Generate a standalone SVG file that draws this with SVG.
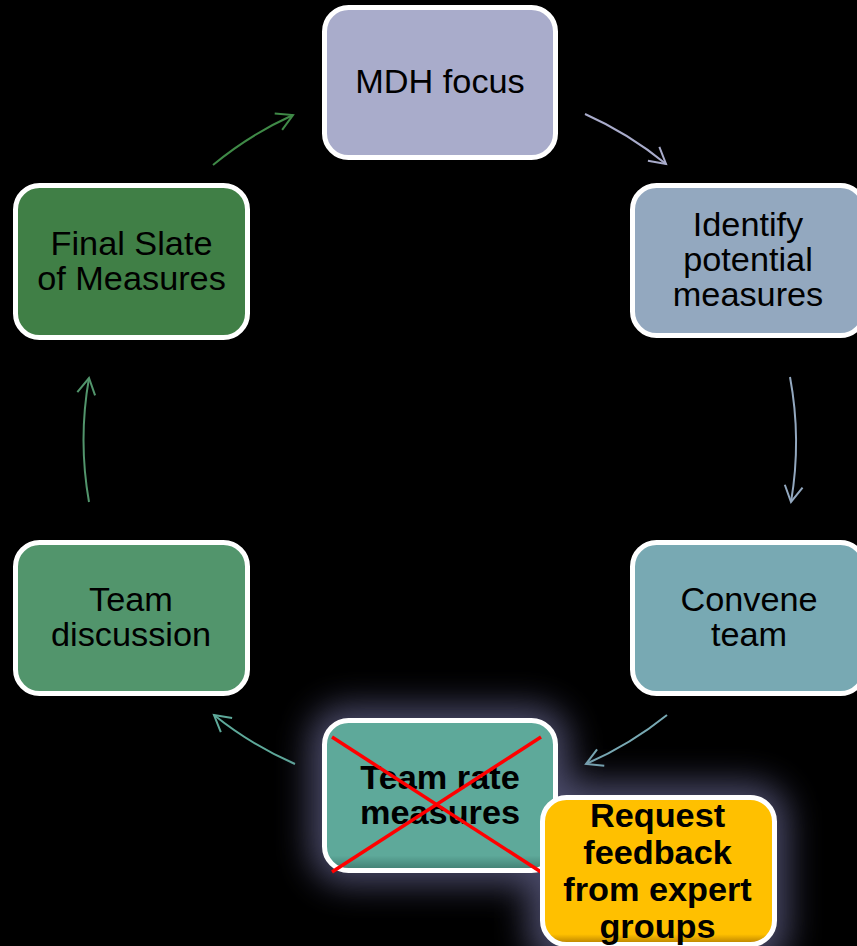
<svg xmlns="http://www.w3.org/2000/svg" width="857" height="946" viewBox="0 0 857 946">
<style>
.box{stroke:#ffffff;stroke-width:5}
.t{font-family:"Liberation Sans",Arial,sans-serif;font-size:32.5px;fill:#000000;text-anchor:middle}
.b{font-weight:bold}
.c{fill:none;stroke-width:2}
</style>
<defs>
<filter id="glow" x="-40%" y="-40%" width="180%" height="180%">
<feGaussianBlur stdDeviation="17"/>
</filter>
<linearGradient id="gRate" x1="0" y1="0" x2="0" y2="1">
<stop offset="0" stop-color="#5ea99a"/>
<stop offset="0.9" stop-color="#5ea99a"/>
<stop offset="1" stop-color="#3f7c70"/>
</linearGradient>
<linearGradient id="gReq" x1="0" y1="0" x2="0" y2="1">
<stop offset="0" stop-color="#ffc000"/>
<stop offset="0.93" stop-color="#ffc000"/>
<stop offset="1" stop-color="#b07a00"/>
</linearGradient>
<marker id="m1" markerUnits="userSpaceOnUse" viewBox="-18 -11 20 22" refX="0" refY="0" markerWidth="20" markerHeight="22" orient="auto" overflow="visible"><path d="M-16,-9 L0,0 L-16,9" fill="none" stroke="#3f8a47" stroke-width="2"/></marker>
<marker id="m2" markerUnits="userSpaceOnUse" viewBox="-18 -11 20 22" refX="0" refY="0" markerWidth="20" markerHeight="22" orient="auto" overflow="visible"><path d="M-16,-9 L0,0 L-16,9" fill="none" stroke="#a9accb" stroke-width="2"/></marker>
<marker id="m3" markerUnits="userSpaceOnUse" viewBox="-18 -11 20 22" refX="0" refY="0" markerWidth="20" markerHeight="22" orient="auto" overflow="visible"><path d="M-16,-9 L0,0 L-16,9" fill="none" stroke="#93a8bf" stroke-width="2"/></marker>
<marker id="m4" markerUnits="userSpaceOnUse" viewBox="-18 -11 20 22" refX="0" refY="0" markerWidth="20" markerHeight="22" orient="auto" overflow="visible"><path d="M-16,-9 L0,0 L-16,9" fill="none" stroke="#78a9b3" stroke-width="2"/></marker>
<marker id="m5" markerUnits="userSpaceOnUse" viewBox="-18 -11 20 22" refX="0" refY="0" markerWidth="20" markerHeight="22" orient="auto" overflow="visible"><path d="M-16,-9 L0,0 L-16,9" fill="none" stroke="#5ea99a" stroke-width="2"/></marker>
<marker id="m6" markerUnits="userSpaceOnUse" viewBox="-18 -11 20 22" refX="0" refY="0" markerWidth="20" markerHeight="22" orient="auto" overflow="visible"><path d="M-16,-9 L0,0 L-16,9" fill="none" stroke="#52956c" stroke-width="2"/></marker>
</defs>
<rect x="0" y="0" width="857" height="946" fill="#000000"/>

<g id="connectors">
<path class="c" stroke="#3f8a47" d="M213,165 A356,356 0 0 1 293,115" marker-end="url(#m1)"/>
<path class="c" stroke="#a9accb" d="M585,114 A356,356 0 0 1 666,164" marker-end="url(#m2)"/>
<path class="c" stroke="#93a8bf" d="M790,377 A356,356 0 0 1 791,502" marker-end="url(#m3)"/>
<path class="c" stroke="#78a9b3" d="M667,715 A356,356 0 0 1 586,764" marker-end="url(#m4)"/>
<path class="c" stroke="#5ea99a" d="M295,764 A356,356 0 0 1 214,715" marker-end="url(#m5)"/>
<path class="c" stroke="#52956c" d="M89,502 A356,356 0 0 1 89,378" marker-end="url(#m6)"/>
</g>

<g id="glow-halo" filter="url(#glow)" opacity="0.7">
<rect x="316" y="712" width="247" height="166" rx="30" fill="#6a6a96" stroke="#6a6a96" stroke-width="12"/>
<rect x="534" y="789" width="248" height="172" rx="30" fill="#6a6a96" stroke="#6a6a96" stroke-width="12"/>
</g>

<g id="node-mdh">
<rect class="box" x="324.5" y="7.5" width="231" height="150" rx="24" fill="#a9accb"/>
<text class="t" transform="translate(440 0) scale(1.055 1)"><tspan x="0" y="93">MDH focus</tspan></text>
</g>

<g id="node-identify">
<rect class="box" x="632.5" y="185.5" width="232" height="150" rx="24" fill="#93a8bf"/>
<text class="t" transform="translate(748 0) scale(1.055 1)"><tspan x="0" y="236">Identify</tspan><tspan x="0" y="271">potential</tspan><tspan x="0" y="306">measures</tspan></text>
</g>

<g id="node-convene">
<rect class="box" x="632.5" y="542.5" width="232" height="151" rx="24" fill="#78a9b3"/>
<text class="t" transform="translate(749 0) scale(1.055 1)"><tspan x="0" y="611">Convene</tspan><tspan x="0" y="646">team</tspan></text>
</g>

<g id="node-discussion">
<rect class="box" x="15.5" y="542.5" width="232" height="151" rx="24" fill="#52956c"/>
<text class="t" transform="translate(131 0) scale(1.055 1)"><tspan x="0" y="611">Team</tspan><tspan x="0" y="646">discussion</tspan></text>
</g>

<g id="node-final">
<rect class="box" x="15.5" y="185.5" width="232" height="152" rx="24" fill="#407f46"/>
<text class="t" transform="translate(131.5 0) scale(1.055 1)"><tspan x="0" y="255">Final Slate</tspan><tspan x="0" y="290">of Measures</tspan></text>
</g>

<g id="node-rate">
<rect class="box" x="324.5" y="720.5" width="231" height="150" rx="24" fill="url(#gRate)"/>
<text class="t b" transform="translate(440 0) scale(1.055 1)"><tspan x="0" y="789">Team rate</tspan><tspan x="0" y="824">measures</tspan></text>
<g id="cross" stroke="#ff0000" stroke-width="3.5">
<line x1="332" y1="737" x2="541" y2="872"/>
<line x1="332" y1="872" x2="541" y2="737"/>
</g>
</g>

<g id="node-request">
<rect class="box" x="542.5" y="797.5" width="232" height="147" rx="24" fill="url(#gReq)"/>
<text class="t b" transform="translate(657.5 0) scale(1.055 1)"><tspan x="0" y="827">Request</tspan><tspan x="0" y="864">feedback</tspan><tspan x="0" y="901">from expert</tspan><tspan x="0" y="938">groups</tspan></text>
</g>
</svg>
